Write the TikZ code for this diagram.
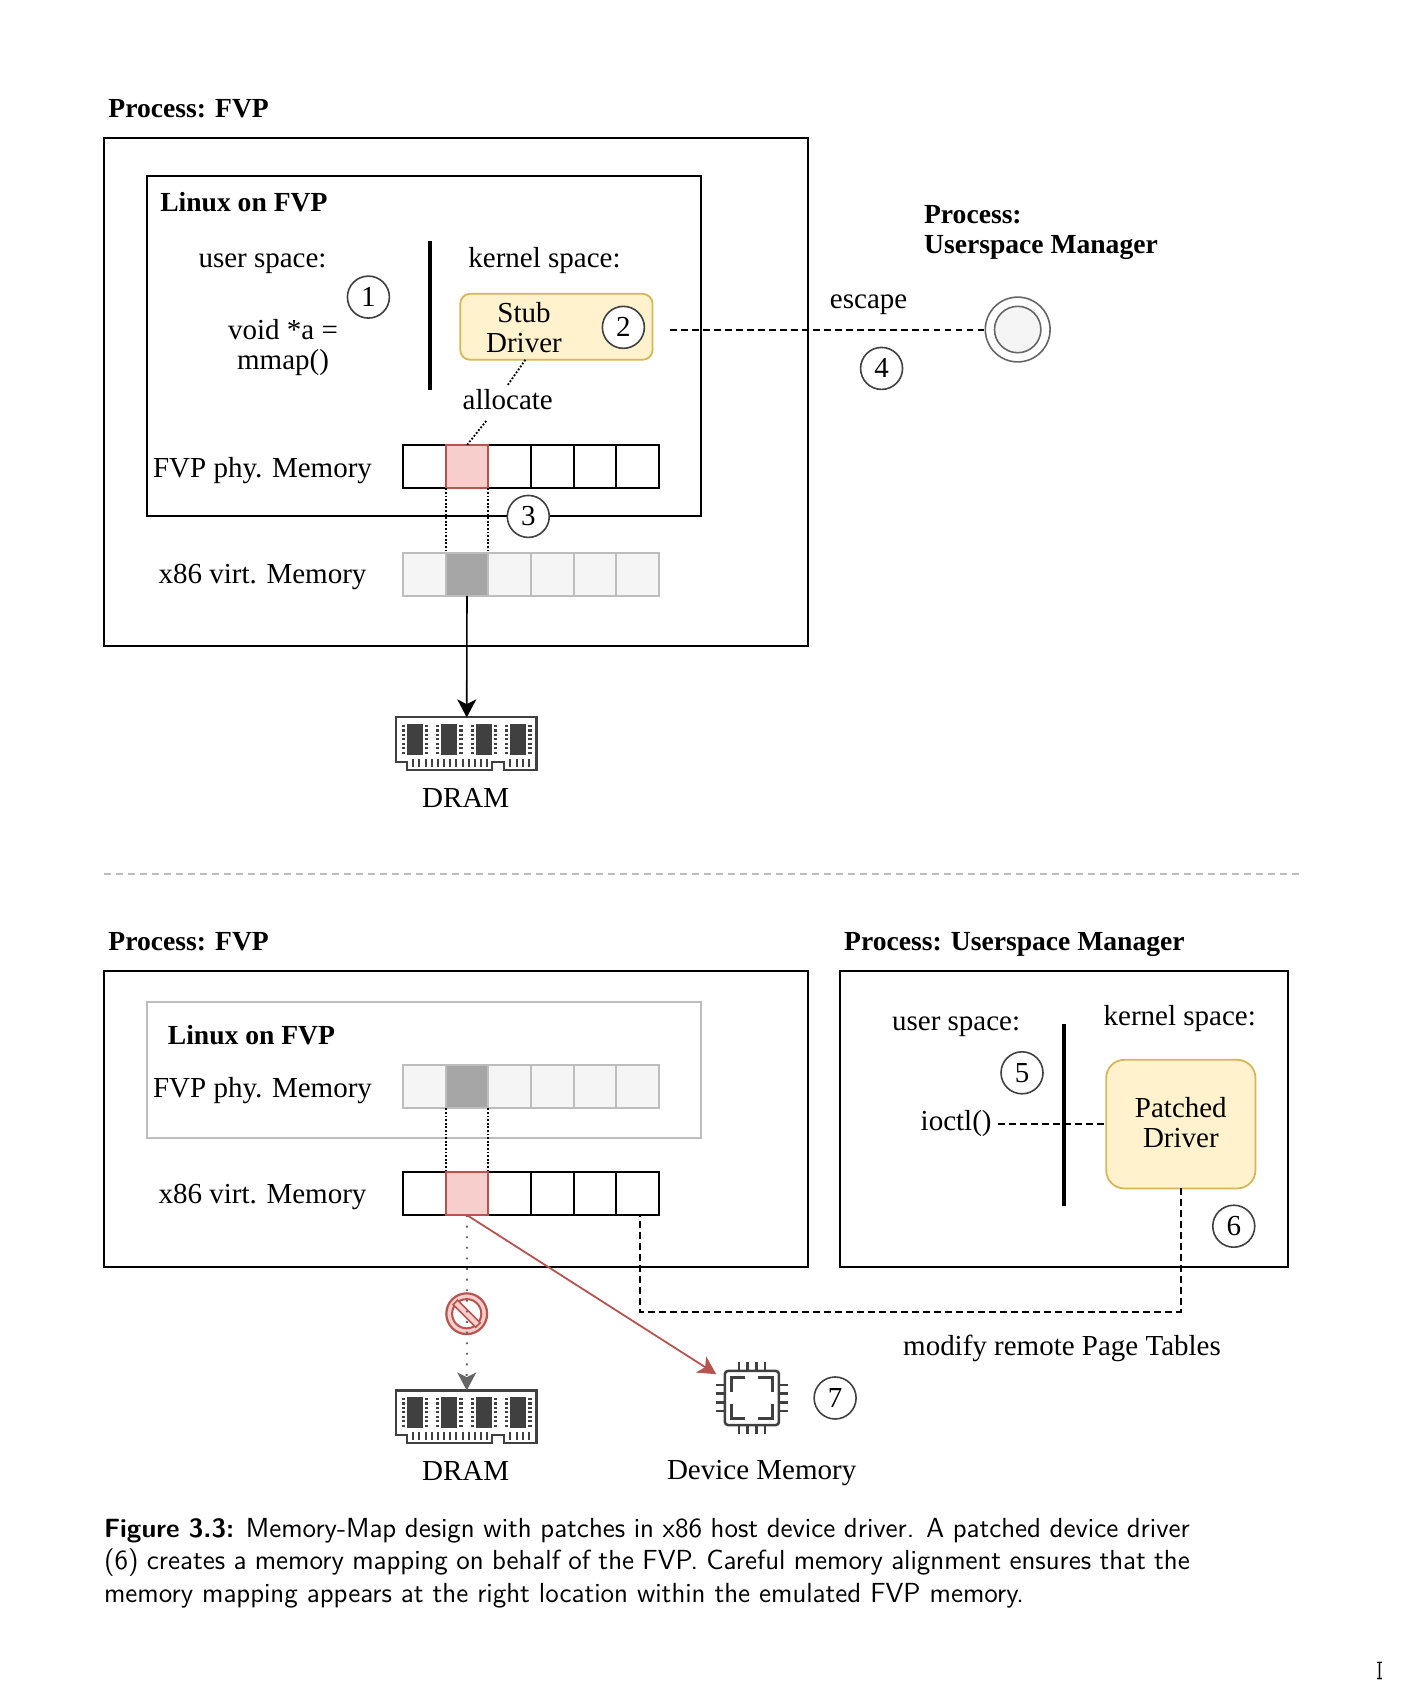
\documentclass[tikz,border=0pt]{standalone}
\usepackage{fontspec}
\usepackage{xcolor}
\usepackage{tikz}
\usetikzlibrary{arrows.meta,positioning}
\setmainfont{Liberation Serif}
\definecolor{rouge}{HTML}{B85450}
\definecolor{rose}{HTML}{F8CECC}
\definecolor{jaune}{HTML}{FFF2CC}
\definecolor{ocre}{HTML}{D6B656}
\definecolor{ardoise}{HTML}{404040}
\definecolor{pale}{HTML}{F5F5F5}
\definecolor{trait}{HTML}{BDBDBD}
\newcommand{\rangee}[4]{%
  \foreach \i in {1,...,6} {\node[#3] (#1\i) at ({373+39.5*(\i-0.5)},#2) {};}
  \node[#4] (#12) at ({373+39.5*1.5},#2) {};}
\newcommand{\barrette}[3]{%
  \node[minimum width=70.8pt, minimum height=27pt, inner sep=0pt, outer sep=0pt] (#1) at (#2+65.5,#3+25) {};
  \begin{scope}[shift={(#2,#3)}]
    \draw[ardoise, line width=1.1pt] (0,0) -- (130,0) -- (130,49) -- (100,49) -- (100,41) -- (89,41) -- (89,49) -- (10,49) -- (10,41) -- (0,41) -- cycle;
    \foreach \x in {10.5,42,74,106} {\fill[ardoise] (\x,6.2) rectangle (\x+14.8,35);}
    \foreach \x in {6.8,28.4,38.6,60.2,70.7,92.3,102.5,124}
      \foreach \y in {8,12.1,16.2,20.3,24.4,28.5,32.6} {\fill[ardoise] (\x-1.6,\y-1) rectangle (\x+1.6,\y+1);}
    \foreach \x in {16,21.7,27.4,33.1,38.8,44.5,50.2,55.9,61.6,67.3,73,78.7,84.4,106,111.8,117.8,123.6} {\draw[ardoise, line width=1pt] (\x,38.5) -- (\x,46);}
  \end{scope}}

\begin{document}
\begin{tikzpicture}[x=0.54032pt, y=-0.54032pt, font=\fontsize{14.5}{15}\selectfont,
  titre/.style={anchor=base west, inner sep=0pt, font=\fontsize{13.8}{15}\selectfont\bfseries, align=left},
  texte/.style={inner sep=1pt, anchor=base},
  bloc/.style={inner sep=1pt, align=center},
  cadre/.style={draw, line width=1pt, outer sep=0pt, minimum width=#1},
  pilote/.style={draw=ocre, fill=jaune, line width=0.9pt, outer sep=0pt},
  numero/.style={circle, draw=ardoise, fill=white, line width=0.8pt, minimum size=21pt, inner sep=0pt},
  casevide/.style={draw, fill=white, line width=1pt, outer sep=0pt, inner sep=0pt, minimum width=21.34pt, minimum height=21.6pt},
  caserouge/.style={casevide, draw=rouge, fill=rose},
  casepale/.style={casevide, draw=trait, fill=pale},
  casegrise/.style={casevide, draw=trait, fill=black!35},
  barre/.style={line width=1.8pt},
  tirets/.style={line width=1pt, dash pattern=on 3.4pt off 2.1pt},
  points/.style={line width=0.9pt, dash pattern=on 0.9pt off 0.9pt},
  fleche/.style={-{Stealth[length=9pt, width=9.5pt, inset=2.4pt]}, line width=0.8pt}]
\useasboundingbox (0,0) rectangle (1302,1568);

% partie haute
\node[titre] (ph) at (100,109) {Process: FVP};
\node[cadre=352pt, minimum height=254.2pt] (fh) at (422.25,362.75) {};
\node[cadre=277.2pt, minimum height=169.9pt] (lh) at (392.5,320.25) {};
\node[titre] (tlh) at (148,196) {Linux on FVP};
\node[texte] (ush) at (243,248) {user space:};
\node[texte] (ksh) at (504,248) {kernel space:};
\node[numero] (n1) at (341,275) {1};
\node[bloc] (mmap) at (262,322) {void *a =\\mmap()};
\draw[barre] (398,223) -- (398,361);
\node[pilote, rounded corners=5pt, minimum width=96.2pt, minimum height=33pt] (stub) at (515,302.5) {};
\node[bloc] (tstub) at (485,303) {Stub\\Driver};
\node[numero] (n2) at (577,303) {2};
\node[texte] (alloc) at (470,379) {allocate};
\node[texte] (pmh) at (243,442) {FVP phy. Memory};
\rangee{a}{432}{casevide}{caserouge}
\node[numero] (n3) at (489,478) {3};
\node[texte] (vmh) at (243,540) {x86 virt. Memory};
\rangee{b}{531.5}{casepale}{casegrise}
\barrette{dh}{366.5}{664}
\node[texte] (tdh) at (431,747) {DRAM};
\node[titre, anchor=west] (pum) at (855,215) {Process:\\Userspace Manager};
\node[circle, draw=black!60, line width=0.8pt, minimum size=32.4pt, inner sep=0pt, outer sep=0pt] (um) at (942,305) {};
\node[circle, draw=black!60, fill=pale, line width=0.8pt, minimum size=23.2pt, inner sep=0pt] (umi) at (um) {};
\node[texte] (esc) at (804,286) {escape};
\node[numero] (n4) at (816,341) {4};
\draw[tirets] ([xshift=8.6pt]stub.east |- um.west) -- (um.west);
\draw[points] ([xshift=-15.5pt]stub.south) -- ([yshift=1pt]alloc.north);
\draw[points] ([xshift=-10.8pt,yshift=-4.4pt]alloc.south) -- (a2.north);
\draw[points] (a2.south west) -- (b2.north west);
\draw[points] (a2.south east) -- (b2.north east);
\draw[fleche] (b2.south) -- (dh.north);

% separation
\draw[trait, line width=0.9pt, dash pattern=on 3.4pt off 2.6pt] (96.5,809) -- (1202,809);

% partie basse
\node[titre] (pb) at (100,880) {Process: FVP};
\node[cadre=352pt, minimum height=148.3pt] (fb) at (422.25,1035.75) {};
\node[cadre=277.2pt, minimum height=67.8pt, draw=trait] (lb) at (392.5,990.25) {};
\node[titre] (tlb) at (155,967) {Linux on FVP};
\node[texte] (pmb) at (243,1015.6) {FVP phy. Memory};
\rangee{c}{1006}{casepale}{casegrise}
\node[texte] (vmb) at (243,1114) {x86 virt. Memory};
\rangee{d}{1104.75}{casevide}{caserouge}
\node[titre] (pr) at (781,880) {Process: Userspace Manager};
\node[cadre=224.2pt, minimum height=148.3pt] (fr) at (984.8,1035.75) {};
\node[texte] (usb) at (885,954) {user space:};
\node[texte] (ksb) at (1092,949) {kernel space:};
\draw[barre] (985,948) -- (985,1116);
\node[numero] (n5) at (946,993) {5};
\node[texte, inner sep=3.2pt] (ioctl) at (885,1046) {ioctl()};
\node[pilote, rounded corners=9pt, minimum width=74.6pt, minimum height=64.3pt] (patched) at (1093,1040.5) {};
\node[bloc] (tpatched) at (1093,1039.5) {Patched\\Driver};
\node[numero] (n6) at (1142,1135) {6};
\node[texte] (tables) at (983,1255) {modify remote Page Tables};
\coordinate (coude) at (1093,1214);
\draw[tirets] (ioctl.east |- patched.west) -- (patched.west);
\draw[tirets] (patched.south) -- (coude) -| ([xshift=1pt]d6.south);
\draw[points] (c2.south west) -- (d2.north west);
\draw[points] (c2.south east) -- (d2.north east);

% interdit
\node[circle, draw=rouge, fill=rose, line width=1.1pt, minimum size=20.4pt, inner sep=0pt] (stop) at (432,1216) {};
\node[circle, draw=rouge, fill=white, line width=1pt, minimum size=14.6pt, inner sep=0pt] (stopi) at (stop) {};
\node[draw=rouge, fill=rose, line width=0.8pt, rotate=-45, minimum width=16pt, minimum height=3.2pt, inner sep=0pt] (stopb) at (stop) {};

\barrette{db}{366.5}{1287}
\node[texte] (tdb) at (431,1370) {DRAM};
\draw[fleche, black!60, dash pattern=on 0.9pt off 4.4pt, line width=1pt] (d2.south) -- (db.north);
\node[minimum width=35.6pt, minimum height=35.6pt, inner sep=0pt, outer sep=0pt] (puce) at (696,1294) {};
\begin{scope}[shift={(696,1294)}, ardoise, line width=1.25pt]
  \draw[rounded corners=1.5pt] (-25,-25) rectangle (25,25);
  \foreach \p in {-12,-4,4,12} {
    \draw (\p,-33.5) -- (\p,-25); \draw (\p,25) -- (\p,33.5);
    \draw (-33.5,\p) -- (-25,\p); \draw (25,\p) -- (33.5,\p);}
  \foreach \sx/\sy in {-1/-1,1/-1,-1/1,1/1} {\draw (\sx*6,\sy*19) -- (\sx*19,\sy*19) -- (\sx*19,\sy*6);}
\end{scope}
\node[texte] (tpuce) at (705,1369) {Device Memory};
\node[numero] (n7) at (773,1294) {7};
\coordinate (pointe) at (663,1272);
\draw[fleche, rouge, line width=0.9pt] (d2.south) -- (pointe);

% legende
\node[anchor=north west, inner sep=0pt, text width=543pt, align=justify, font=\sffamily\fontsize{13.8}{16.2}\selectfont] (leg) at (96,1405) {{\fontsize{13.2}{16.2}\selectfont\textbf{Figure 3.3:}} Memory-Map design with patches in x86 host device driver. A patched device driver\linebreak (6) creates a memory mapping on behalf of the FVP. Careful memory alignment ensures that the\linebreak memory mapping appears at the right location within the emulated FVP memory.};

% curseur
\draw[black!25, line width=1.3pt] (1274.5,1538.5) -- (1279.5,1538.5) (1277,1538.5) -- (1277,1553.5) (1274.5,1553.5) -- (1279.5,1553.5);
\draw[black, line width=0.5pt] (1274.5,1538.5) -- (1279.5,1538.5) (1277,1538.5) -- (1277,1553.5) (1274.5,1553.5) -- (1279.5,1553.5);
\end{tikzpicture}
\end{document}
